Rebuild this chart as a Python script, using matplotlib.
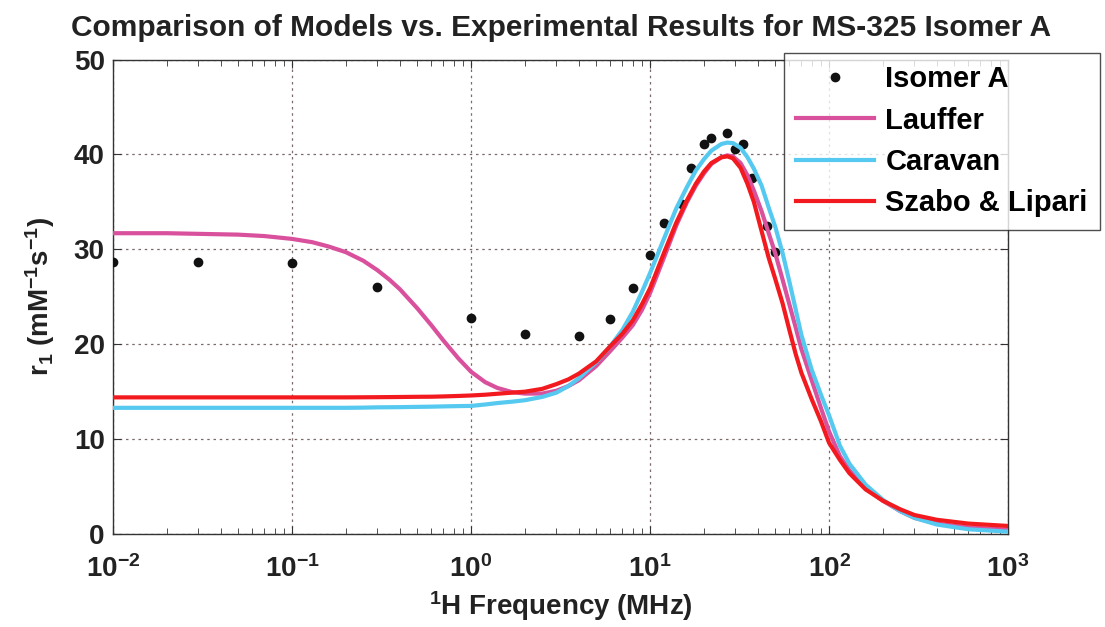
import math
import matplotlib
matplotlib.use('Agg')
import matplotlib.pyplot as plt
from matplotlib.ticker import FuncFormatter, LogLocator, NullFormatter

plt.rcParams['font.family'] = ['Liberation Sans', 'DejaVu Sans']
plt.rcParams['font.weight'] = 'bold'
plt.rcParams['mathtext.fontset'] = 'custom'
plt.rcParams['mathtext.rm'] = 'Liberation Sans:bold'
plt.rcParams['mathtext.bf'] = 'Liberation Sans:bold'
plt.rcParams['mathtext.it'] = 'Liberation Sans:bold'

# measured points, Isomer A
freq_pts = [0.01, 0.03, 0.1, 0.3, 1, 2, 4, 6, 8, 10, 12, 15, 17, 20, 22, 27, 30, 33, 37, 45, 50]
r1_pts = [28.7, 28.7, 28.6, 26.0, 22.8, 21.1, 20.9, 22.7, 25.9, 29.4, 32.8, 34.8, 38.6, 41.1, 41.7,
          42.3, 40.6, 41.1, 37.5, 32.5, 29.7]

# model curves
freq_fit = [0.01, 0.02, 0.05, 0.07, 0.1, 0.13, 0.16, 0.2, 0.25, 0.3, 0.35, 0.4, 0.5, 0.6, 0.7, 0.85,
            1, 1.2, 1.4, 1.7, 2, 2.5, 3, 3.5, 4, 5, 6, 7, 8, 9, 10, 12, 14, 16, 18, 20, 22, 25, 27, 29,
            32, 35, 38, 42, 46, 50, 55, 60, 65, 70, 80, 90, 100, 115, 130, 160, 200, 250, 300, 400,
            600, 1000]
lauffer = [31.7, 31.7, 31.55, 31.4, 31.1, 30.75, 30.3, 29.7, 28.8, 27.8, 26.8, 25.8, 23.8, 22.0, 20.4,
           18.5, 17.1, 16.0, 15.4, 14.95, 14.8, 14.8, 15.1, 15.6, 16.2, 17.7, 19.3, 20.7, 22.0, 23.6,
           25.4, 29.2, 32.5, 34.9, 36.7, 38.0, 39.0, 39.7, 39.9, 39.8, 39.1, 37.8, 36.2, 34.0, 31.7,
           29.6, 26.8, 24.2, 21.8, 19.5, 16.2, 13.3, 10.8, 8.2, 6.7, 4.9, 3.5, 2.4, 1.7, 1.1, 0.7, 0.45]
caravan = [13.3, 13.3, 13.3, 13.3, 13.3, 13.3, 13.3, 13.3, 13.32, 13.35, 13.36, 13.37, 13.4, 13.42,
           13.45, 13.48, 13.5, 13.65, 13.8, 13.95, 14.1, 14.45, 14.9, 15.6, 16.4, 18.1, 19.8, 21.5,
           23.4, 25.5, 27.5, 31.2, 34.3, 36.5, 38.3, 39.5, 40.4, 41.1, 41.25, 41.2, 40.7, 39.7, 38.5,
           36.7, 34.4, 32.4, 29.6, 26.6, 23.7, 21.0, 17.3, 14.7, 12.5, 9.3, 7.4, 5.2, 3.6, 2.4, 1.7,
           1.0, 0.5, 0.25]
szabo = [14.4, 14.4, 14.4, 14.4, 14.4, 14.4, 14.4, 14.4, 14.41, 14.42, 14.43, 14.44, 14.46, 14.47,
         14.5, 14.55, 14.6, 14.68, 14.78, 14.9, 15.0, 15.3, 15.8, 16.3, 16.9, 18.2, 19.8, 21.1, 22.5,
         24.2, 25.9, 29.7, 32.8, 35.1, 36.9, 38.2, 39.1, 39.7, 39.8, 39.6, 38.6, 36.9, 35.0, 31.9,
         29.1, 26.9, 24.3, 21.5, 19.0, 17.0, 14.2, 11.9, 9.6, 7.8, 6.4, 4.7, 3.5, 2.6, 2.0, 1.5, 1.1,
         0.85]

x_ticks = [0.01, 0.1, 1, 10, 100, 1000]
y_ticks = [0, 10, 20, 30, 40, 50]

fig = plt.figure(figsize=(11.05, 6.27), dpi=100)
ax = fig.add_axes([0.1023, 0.1483, 0.8100, 0.7567])

ax.plot(freq_pts, r1_pts, 'o', color='#111111', markersize=6, label='Isomer A', zorder=3)
ax.plot(freq_fit, lauffer, color='#d9509c', lw=3, label='Lauffer', zorder=4)
ax.plot(freq_fit, caravan, color='#55c9ef', lw=3, label='Caravan', zorder=5)
ax.plot(freq_fit, szabo, color='#f21a1e', lw=3, label='Szabo & Lipari', zorder=6)

ax.set_xscale('log')
ax.set_xlim(0.01, 1000)
ax.set_ylim(0, 50)
ax.set_xticks(x_ticks)
ax.set_yticks(y_ticks)
ax.xaxis.set_minor_locator(LogLocator(base=10, subs=range(2, 10), numticks=20))
ax.xaxis.set_minor_formatter(NullFormatter())
ax.xaxis.set_major_formatter(FuncFormatter(lambda v, p: r'$10^{%d}$' % round(math.log10(v))))
ax.tick_params(which='both', direction='in', top=True, right=True, color='#333333')
ax.tick_params(which='major', length=6, labelsize=20, labelcolor='#222222')
ax.tick_params(axis='x', which='major', pad=15)
ax.tick_params(axis='y', which='major', pad=6)
ax.tick_params(which='minor', length=4)
ax.grid(True, which='major', color='#7a6a6a', lw=0.9, linestyle=(0, (2, 3)))
for s in ax.spines.values():
    s.set_color('#333333')
    s.set_linewidth(1.0)

ax.set_title('Comparison of Models vs. Experimental Results for MS-325 Isomer A',
             fontsize=21.5, fontweight='bold', color='#222222', pad=17)
ax.set_xlabel(r'$^{1}$H Frequency (MHz)', fontsize=20, fontweight='bold', color='#222222',
              labelpad=5)
ax.set_ylabel(r'r$_1$ (mM$^{-1}$s$^{-1}$)', fontsize=20, fontweight='bold', color='#222222',
              labelpad=12)

leg = ax.legend(loc='upper right', bbox_to_anchor=(0.9955, 0.9155), bbox_transform=fig.transFigure,
                fontsize=21, frameon=True, fancybox=False, borderaxespad=0, handlelength=2.65,
                labelspacing=0.46, borderpad=0.42, handletextpad=0.4)
leg.get_frame().set_edgecolor('#222222')
leg.get_frame().set_linewidth(1.0)
leg.set_zorder(10)

fig.savefig('out.png', dpi=100)
